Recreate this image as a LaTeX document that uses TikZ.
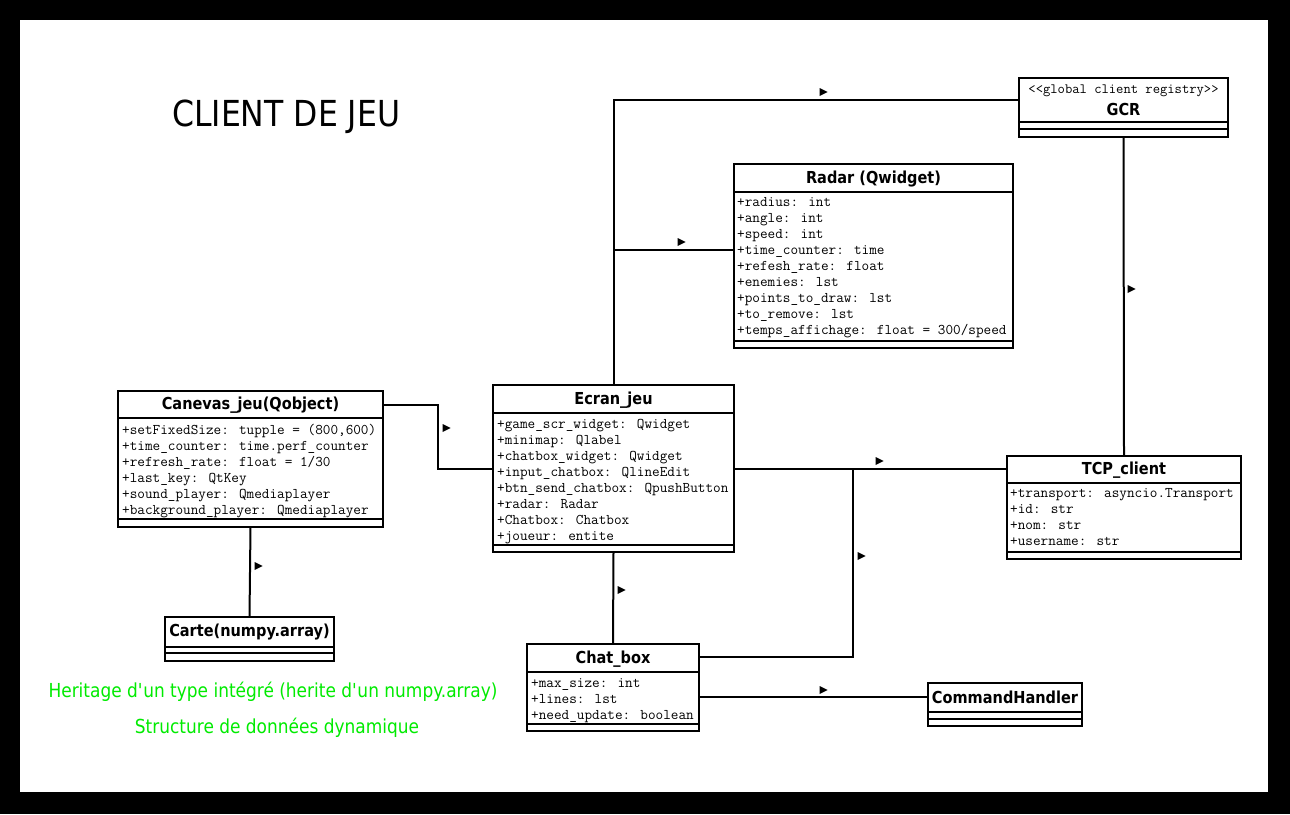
\documentclass[tikz,border=0pt]{standalone}
\usepackage{fontspec}
\setmainfont{DejaVu Sans}[FakeStretch=0.88]
\usepackage{xcolor}
\usepackage{tikz}
\usetikzlibrary{shapes.geometric, arrows}

\definecolor{notegreen}{RGB}{0,235,0}

\begin{document}
\begin{tikzpicture}[x=1pt, y=-1pt]
    % Define the styles
    \tikzstyle{class} = [draw, line width=2pt, inner sep=0pt, outer sep=0pt]
    \tikzstyle{cname} = [font=\bfseries\fontsize{16.5}{18}\selectfont, inner sep=0pt]
    \tikzstyle{field} = [font=\ttfamily\fontsize{14.8}{16}\selectfont, anchor=base west, inner sep=0pt]
    \tikzstyle{line} = [draw, line width=2pt]
    \tikzstyle{dirtip} = [isosceles triangle, fill, inner sep=0pt, minimum width=8pt, minimum height=8pt, isosceles triangle stretches]
    \tikzstyle{note} = [font=\fontsize{19.3}{22}\selectfont, text=notegreen, inner sep=0pt]

    % Frame
    \useasboundingbox (0,0) rectangle (1290,814);
    \fill[black] (0,0) rectangle (1290,814);
    \fill[white] (20,20) rectangle (1268,792);

    \node[anchor=base west, font=\fontsize{35.8}{40}\selectfont, inner sep=0pt] (title) at (172,126) {CLIENT DE JEU};

    % Place the classes
    \node[class, minimum width=209pt, minimum height=59pt] (gcr) at (1123.5,107.5) {};
    \node[font=\ttfamily\fontsize{14.2}{16}\selectfont, inner sep=0pt] (gcr-st) at (1123.5,91) {{<}{<}global client registry{>}{>}};
    \node[cname] (gcr-name) at (1123.5,109) {GCR};
    \draw[line] (gcr.west |- 0,122) -- (gcr.east |- 0,122);
    \draw[line] (gcr.west |- 0,129) -- (gcr.east |- 0,129);

    \node[class, minimum width=279pt, minimum height=184pt] (radar) at (873.5,256) {};
    \node[cname] (radar-name) at (873.5,179) {Radar (Qwidget)};
    \draw[line] (radar.west |- 0,192) -- (radar.east |- 0,192);
    \draw[line] (radar.west |- 0,341) -- (radar.east |- 0,341);
    \foreach \txt [count=\i] in {+radius: int, +angle: int, +speed: int, +time\_counter: time,
        +refesh\_rate: float, +enemies: lst, +points\_to\_draw: lst, +to\_remove: lst,
        +temps\_affichage: float = 300/speed}
        \node[field] (radar-f\i) at (737,190+16*\i) {\txt};

    \node[class, minimum width=265pt, minimum height=136pt] (canevas) at (250.5,459) {};
    \node[cname] (canevas-name) at (250.5,405.5) {Canevas\_jeu(Qobject)};
    \draw[line] (canevas.west |- 0,418) -- (canevas.east |- 0,418);
    \draw[line] (canevas.west |- 0,519) -- (canevas.east |- 0,519);
    \foreach \txt [count=\i] in {{+setFixedSize: tupple = (800,600)}, +time\_counter: time.perf\_counter,
        +refresh\_rate: float = 1/30, +last\_key: QtKey, +sound\_player: Qmediaplayer,
        +background\_player: Qmediaplayer}
        \node[field] (canevas-f\i) at (122,418+16*\i) {\txt};

    \node[class, minimum width=241pt, minimum height=167pt] (ecran) at (613.5,468.5) {};
    \node[cname] (ecran-name) at (613.5,400) {Ecran\_jeu};
    \draw[line] (ecran.west |- 0,413) -- (ecran.east |- 0,413);
    \draw[line] (ecran.west |- 0,545) -- (ecran.east |- 0,545);
    \foreach \txt [count=\i] in {+game\_scr\_widget: Qwidget, +minimap: Qlabel, +chatbox\_widget: Qwidget,
        +input\_chatbox: QlineEdit, +btn\_send\_chatbox: QpushButton, +radar: Radar,
        +Chatbox: Chatbox, +joueur: entite}
        \node[field] (ecran-f\i) at (497,412+16*\i) {\txt};

    \node[class, minimum width=234pt, minimum height=103pt] (tcp) at (1124,507.5) {};
    \node[cname] (tcp-name) at (1124,470.5) {TCP\_client};
    \draw[line] (tcp.west |- 0,483) -- (tcp.east |- 0,483);
    \draw[line] (tcp.west |- 0,552) -- (tcp.east |- 0,552);
    \foreach \txt [count=\i] in {+transport: asyncio.Transport, +id: str, +nom: str, +username: str}
        \node[field] (tcp-f\i) at (1010,481+16*\i) {\txt};

    \node[class, minimum width=169pt, minimum height=44pt] (carte) at (249.5,639) {};
    \node[cname] (carte-name) at (249.5,632.5) {Carte(numpy.array)};
    \draw[line] (carte.west |- 0,647) -- (carte.east |- 0,647);
    \draw[line] (carte.west |- 0,653) -- (carte.east |- 0,653);

    \node[class, minimum width=172pt, minimum height=87pt] (chat) at (613,687.5) {};
    \node[cname] (chat-name) at (613,659) {Chat\_box};
    \draw[line] (chat.west |- 0,672) -- (chat.east |- 0,672);
    \draw[line] (chat.west |- 0,724) -- (chat.east |- 0,724);
    \foreach \txt [count=\i] in {+max\_size: int, +lines: lst, +need\_update: boolean}
        \node[field] (chat-f\i) at (531,671+16*\i) {\txt};

    \node[class, minimum width=154pt, minimum height=43pt] (cmd) at (1005,704.5) {};
    \node[cname] (cmd-name) at (1005,697.5) {CommandHandler};
    \draw[line] (cmd.west |- 0,712) -- (cmd.east |- 0,712);
    \draw[line] (cmd.west |- 0,719) -- (cmd.east |- 0,719);

    % Connect the classes
    \path[line] (ecran.north) |- ([yshift=7.5pt]gcr.west);
    \path[line] ([yshift=6pt]radar.west) -- ([yshift=6pt]radar.west -| ecran.north);
    \path[line] ([yshift=54pt]canevas.east) -- ++(55,0) |- (ecran.west);
    \path[line] (ecran.east) -- ([yshift=39pt]tcp.west);
    \path[line] ([yshift=30.5pt]chat.east) -| ([xshift=119pt]ecran.east);
    \path[line] ([yshift=-9.5pt]chat.east) -- ([yshift=7.5pt]cmd.west);
    \path[line] (ecran.south) -- (chat.north);
    \path[line] (canevas.south) -- (carte.north);
    \path[line] (gcr.south) -- (tcp.north);

    % Direction tips beside the connectors
    \node[dirtip] (tip-gcr) at (822,92) {};
    \node[dirtip] (tip-radar) at (680,242) {};
    \node[dirtip] (tip-canevas) at (445,428) {};
    \node[dirtip] (tip-tcp) at (878,461) {};
    \node[dirtip] (tip-chat) at (860,556) {};
    \node[dirtip] (tip-cmd) at (822,690) {};
    \node[dirtip] (tip-ecran) at (620,590) {};
    \node[dirtip] (tip-carte) at (257,566) {};
    \node[dirtip] (tip-client) at (1130,289) {};

    % Notes
    \node[note] (note-heritage) at (273,692) {Heritage d\textquotesingle un type intégré (herite d\textquotesingle un numpy.array)};
    \node[note] (note-structure) at (277,728) {Structure de données dynamique};

\end{tikzpicture}
\end{document}
